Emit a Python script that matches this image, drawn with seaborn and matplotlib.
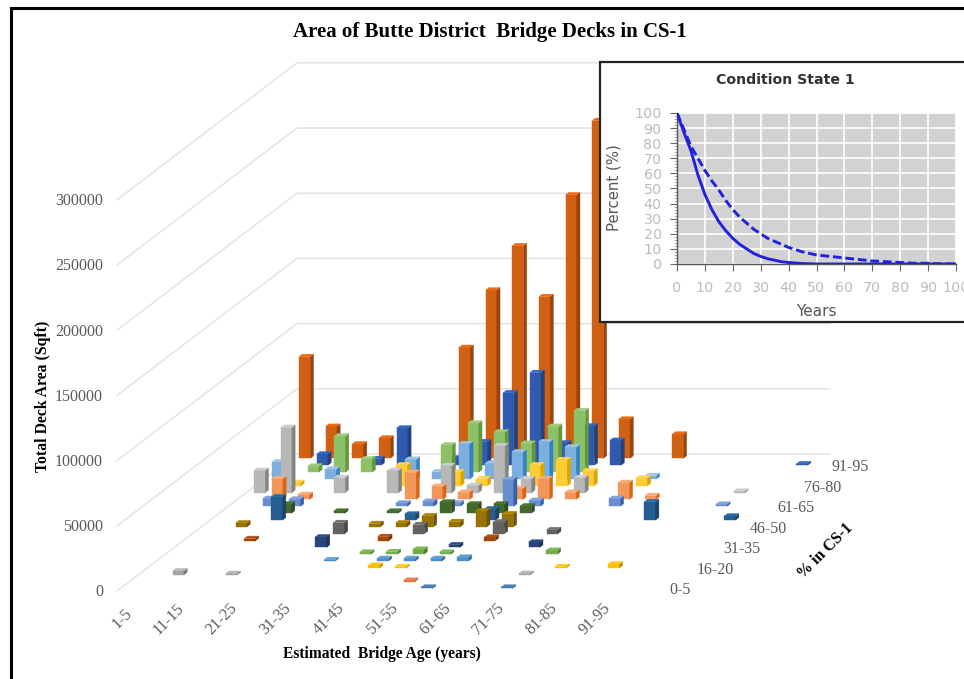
import colorsys
import matplotlib
matplotlib.use("Agg")
import matplotlib.pyplot as plt
from matplotlib.patches import Polygon, Rectangle
from matplotlib.ticker import MultipleLocator
import pandas as pd
import seaborn as sns

# ---------- data ----------
age_labels = ["1-5", "11-15", "21-25", "31-35", "41-45", "51-55", "61-65", "71-75", "81-85", "91-95"]
cs_labels = ["0-5", "16-20", "31-35", "46-50", "61-65", "76-80", "91-95"]
y_ticks = [0, 50000, 100000, 150000, 200000, 250000, 300000]

# one list per "% in CS-1" class (front to back), one value per age class
s00 = [0,0,0,0,0,0,0,0,0,0,0,1000,0,0,1000,0,0,0,0,0]
s01 = [0,0,0,0,0,0,0,0,0,0,1000,0,0,0,0,0,0,0,0,0]
s02 = [0,3000,0,1000,0,0,0,0,0,0,0,0,0,0,1000,0,0,0,0,0]
s03 = [0,0,0,0,0,0,0,0,2000,1000,0,0,0,0,0,1000,0,3000,0,0]
s04 = [0,0,0,0,0,0,1000,0,2000,2000,2000,3000,0,0,0,0,0,0,0,0]
s05 = [0,0,0,0,0,0,0,1500,2000,3800,1500,0,0,0,3000,0,0,0,0,0]
s06 = [0,0,0,0,0,8000,0,0,0,0,2000,0,0,4000,0,0,0,0,0,0]
s07 = [0,0,1500,0,0,0,0,3000,0,0,0,2500,0,0,0,0,0,0,0,0]
s08 = [0,0,0,0,0,8500,0,0,7000,0,0,9000,0,3000,0,0,0,0,0,0]
s09 = [0,3000,0,0,0,0,2500,3000,8500,4000,12300,10000,0,0,0,0,0,0,0,0]
s10 = [0,0,17700,0,0,0,0,4500,0,0,8500,0,0,0,0,0,14000,0,0,3000]
s11 = [0,0,7000,0,1500,0,1500,0,8500,7000,7000,5500,0,0,0,0,0,0,0,0]
s12 = [0,6000,5500,0,0,0,2500,3800,2500,0,20700,4500,0,0,6000,0,0,0,1500,0]
s13 = [0,16000,3800,0,0,0,20700,10000,5500,0,8500,16000,5500,0,13000,3000,0,0,0,0]
s14 = [17000,50000,0,11500,0,17000,0,20700,5500,36000,10700,0,11500,0,0,0,0,0,1000,0]
s15 = [0,2500,0,0,0,16000,0,10700,5500,0,16000,20000,11500,0,6000,0,0,0,0,0]
s16 = [13000,0,7500,0,0,15000,5500,27000,12000,20700,28500,24500,0,0,2500,0,0,0,0,0]
s17 = [0,4500,27500,10000,0,0,20700,37500,30700,22000,35000,47000,0,0,0,0,0,0,0,0]
s18 = [0,8500,0,5000,28500,0,5500,18000,55500,71000,17000,30000,19000,0,0,0,0,0,0,1000]
s19 = [78000,24500,11000,15500,0,0,85000,129000,163000,124000,202000,259000,30000,0,18500,0,0,0,0,0]
series = [s00, s01, s02, s03, s04, s05, s06, s07, s08, s09, s10, s11, s12, s13, s14, s15, s16, s17, s18, s19]
series_colors = ["#4472A8", "#E0703A", "#A5A5A5", "#FFC000", "#4A90C8", "#70AD47", "#264478", "#9E480E",
                 "#636363", "#997300", "#255E91", "#43682B", "#698ED0", "#F1975A", "#B7B7B7", "#FFCD33",
                 "#7CAFDD", "#8CC168", "#2F5AAE", "#D26012"]

years = [0,2.5,5,7.5,10,12.5,15,17.5,20,22.5,25,27.5,30,32.5,35,37.5,40,45,50,55,60,65,70,75,80,85,90,95,100]
solid_pct = [100,87,75,59,46,36,28,22,17,13,10,7,5,3.5,2.5,1.5,1,0.3,0,0,0,0,0,0,0,0,0,0,0]
dashed_pct = [100,89,78,70,62,55,49,42,36,31,27,23,20,17,15,13,11,8,6,5,4,3,2,1.5,1,0.5,0.5,0,0]

# ---------- style ----------
sns.set_theme(style="white")
plt.rcParams["font.family"] = ["Liberation Serif", "DejaVu Serif"]

fig = plt.figure(figsize=(9.64, 6.79), dpi=100)
ax = fig.add_axes([0, 0, 1, 1])
ax.set_xlim(0, 964)
ax.set_ylim(679, 0)
ax.axis("off")

# oblique projection of the chart's 3D scale onto the page
X0, Y0 = 117.0, 591.0
DX_AGE, DX_CS, DY_CS = 26.65, 9.0, 6.85
PX_PER_UNIT = 65.2 / 50000


def proj(age, cs, value=0.0):
    return (X0 + age * DX_AGE + cs * DX_CS, Y0 - cs * DY_CS - value * PX_PER_UNIT)


def shade(color, factor):
    r, g, b = matplotlib.colors.to_rgb(color)
    h, l, s = colorsys.rgb_to_hls(r, g, b)
    return colorsys.hls_to_rgb(h, max(0, min(1, l * factor)), s)


# gridlines
for v in y_ticks:
    ax.plot(*zip(proj(0, 0, v), proj(0, 20, v), proj(20, 20, v)), color="#E2E2E2", lw=1, zorder=1)
    x, y = proj(0, 0, v)
    ax.text(103, y + 1.5, str(v), ha="right", va="center", fontsize=11.5, color="#595959")

# bars, back to front
BW, BD = 0.42, 0.36
for c in range(19, -1, -1):
    col = series_colors[c]
    for a, v in enumerate(series[c]):
        if v <= 0:
            continue
        a0, a1 = a + 0.5 - BW / 2, a + 0.5 + BW / 2
        c0, c1 = c + 0.5 - BD / 2 + 0.05, c + 0.5 + BD / 2 + 0.05
        z = 10 + (19 - c)
        ax.add_patch(Polygon([proj(a0, c0, 0), proj(a1, c0, 0), proj(a1, c0, v), proj(a0, c0, v)],
                             fc=col, ec=col, lw=0.3, zorder=z))
        ax.add_patch(Polygon([proj(a1, c0, 0), proj(a1, c1, 0), proj(a1, c1, v), proj(a1, c0, v)],
                             fc=shade(col, 0.72), ec=shade(col, 0.72), lw=0.3, zorder=z))
        ax.add_patch(Polygon([proj(a0, c0, v), proj(a1, c0, v), proj(a1, c1, v), proj(a0, c1, v)],
                             fc=shade(col, 1.12), ec=shade(col, 1.12), lw=0.3, zorder=z))

# axis labels on the floor
for i, lab in enumerate(age_labels):
    ax.text(proj(i * 2, 0)[0] + (5 if i == 0 else -1.5), 619, lab, rotation=45,
            ha="center", va="center", fontsize=11.5, color="#595959", rotation_mode="anchor")
for i, lab in enumerate(cs_labels):
    x, y = proj(20, i * 3 + 0.3)
    ax.text(x + 16.5, y + 1.5, lab, ha="left", va="center", fontsize=11.5, color="#595959")

ax.text(490, 32, "Area of Butte District  Bridge Decks in CS-1", ha="center", va="center",
        fontsize=15, fontweight="bold", color="black")
ax.text(43, 396, "Total Deck Area (Sqft)", rotation=90, ha="center", va="center",
        fontsize=11.3, fontweight="bold", color="black")
ax.text(382, 654, "Estimated  Bridge Age (years)", ha="center", va="center",
        fontsize=11.2, fontweight="bold", color="black")
ax.text(825, 551, "% in CS-1", rotation=45, ha="center", va="center", rotation_mode="anchor",
        fontsize=11.5, fontweight="bold", color="black")

# outer frame
ax.plot([10.5, 10.5, 964], [679, 7.5, 7.5], color="black", lw=2.2, zorder=40, solid_joinstyle="miter")

# inset card
ax.add_patch(Rectangle((599.5, 62), 380, 260, fc="white", ec="#222222", lw=1.6, zorder=50))
ins = fig.add_axes([677 / 964, 1 - 264 / 679, (956 - 677) / 964, (264 - 113) / 679], zorder=60)
ins.set_facecolor("#D2D2D2")
df = pd.DataFrame({
    "year": years * 2,
    "percent": solid_pct + dashed_pct,
    "kind": ["solid"] * len(years) + ["dashed"] * len(years),
})
ins.grid(True, color="white", lw=1.2, zorder=1)
sns.lineplot(data=df, x="year", y="percent", style="kind", style_order=["solid", "dashed"],
             dashes={"solid": (None, None), "dashed": (3, 1.3)}, color="#2222DD", lw=2.1,
             legend=False, ax=ins, zorder=5)
ins.set_xlim(0, 100)
ins.set_ylim(0, 100)
ins.xaxis.set_major_locator(MultipleLocator(10))
ins.yaxis.set_major_locator(MultipleLocator(10))
ins.yaxis.set_minor_locator(MultipleLocator(2))
ins.tick_params(axis="both", which="major", length=5, width=0.8, color="#666666", labelcolor="#BDBDBD",
                labelsize=10.3, labelfontfamily="DejaVu Sans", pad=7, bottom=True, left=True)
ins.tick_params(axis="y", which="minor", length=2, width=0.5, color="#888888", left=True)
ins.tick_params(axis="y", which="major", pad=6)
ins.set_axisbelow(True)
for side, sp in ins.spines.items():
    sp.set_visible(side in ("left", "bottom"))
    sp.set_color("#555555")
    sp.set_linewidth(1)
ins.set_xlabel("")
ins.set_ylabel("")
for lbl in ins.get_xticklabels() + ins.get_yticklabels():
    lbl.set_clip_on(False)

card = fig.add_axes([0, 0, 1, 1], zorder=70)
card.set_xlim(0, 964)
card.set_ylim(679, 0)
card.axis("off")
card.text(785, 80, "Condition State 1", ha="center", va="center", fontsize=10.2, fontweight="bold",
          color="#333333", family="DejaVu Sans")
card.text(614, 188, "Percent (%)", rotation=90, ha="center", va="center", fontsize=10.7,
          color="#555555", family="DejaVu Sans")
card.text(816, 312, "Years", ha="center", va="center", fontsize=11, color="#555555", family="DejaVu Sans")

fig.savefig("out.png", dpi=100, facecolor="white")
